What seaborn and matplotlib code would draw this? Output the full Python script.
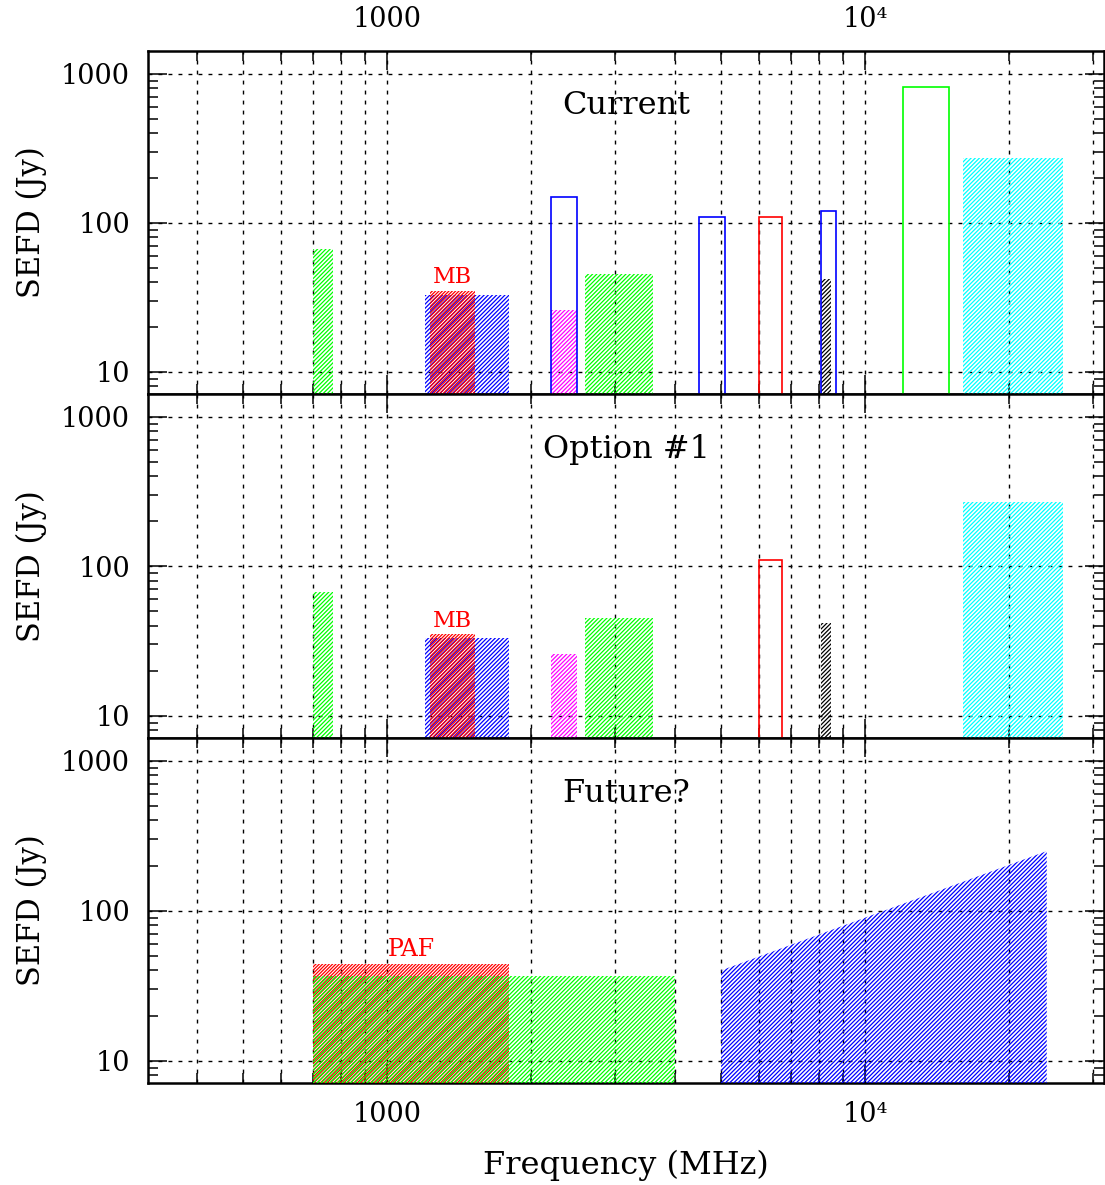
import matplotlib.pyplot as plt
import numpy as np
import seaborn as sns
from matplotlib.ticker import LogLocator, NullFormatter

# receiver bands: lower / upper edge (MHz) and SEFD (Jy)
current_lo = [700, 1200, 1230, 2200, 2200, 2600, 4500, 6000, 8100, 8100, 12000, 16000]
current_hi = [770, 1800, 1530, 2500, 2500, 3600, 5100, 6700, 8700, 8500, 15000, 26000]
current_sefd = [67, 33, 35, 150, 26, 45, 110, 110, 120, 42, 810, 270]

option_lo = [700, 1200, 1230, 2200, 2600, 6000, 8100, 16000]
option_hi = [770, 1800, 1530, 2500, 3600, 6700, 8500, 26000]
option_sefd = [67, 33, 35, 26, 45, 110, 42, 270]

future_lo = [700, 700]
future_hi = [1800, 4000]
future_sefd = [44, 37]

# wideband feed, SEFD rising with frequency
wide_freq = [5000, 24000]
wide_sefd = [40, 250]

panel_titles = ['Current', 'Option #1', 'Future?']
xtick_vals = [1000, 10000]
xtick_labels = ['1000', '10\u2074']
ytick_vals = [10, 100, 1000]
ytick_labels = ['10', '100', '1000']

# styles (colour, hatched?) for each band above
G, B, R, M, C, K = '#00ff00', '#0000ff', '#ff0000', '#ff00ff', '#00ffff', '#000000'
current_style = [(G, True), (B, True), (R, True), (B, False), (M, True), (G, True),
                 (B, False), (R, False), (B, False), (K, True), (G, False), (C, True)]
option_style = [(G, True), (B, True), (R, True), (M, True), (G, True),
                (R, False), (K, True), (C, True)]
future_style = [(R, True), (G, True)]

sns.set_style("ticks")
plt.rcParams['font.family'] = ['DejaVu Serif', 'DejaVu Sans']
plt.rcParams['hatch.linewidth'] = 0.9
for k in ['text.color', 'axes.labelcolor', 'xtick.color', 'ytick.color']:
    plt.rcParams[k] = 'black'

FLOOR = 1.0
XLIM = (10 ** 2.5, 10 ** 4.5)
YLIM = (7.1, 1420)


def draw_bands(ax, lo, hi, sefd, style):
    lo = np.array(lo, float)
    hi = np.array(hi, float)
    for l, h, s, (col, hatched) in zip(lo, hi, sefd, style):
        if hatched:
            # red receivers get a slightly denser hatch so overlaps stay visible
            hp = '/' * 10 if col == R else '/' * 8
            ax.bar(l, s - FLOOR, width=h - l, bottom=FLOOR, align='edge',
                   facecolor='none', edgecolor=col, linewidth=0, hatch=hp, zorder=3)
        else:
            ax.bar(l, s - FLOOR, width=h - l, bottom=FLOOR, align='edge',
                   facecolor='none', edgecolor=col, linewidth=1.2, zorder=4)


def label_band(ax, lo, hi, sefd, text, size):
    ax.annotate(text, xy=(np.sqrt(lo * hi), sefd), xytext=(0, 2),
                textcoords='offset points', ha='center', va='bottom',
                color=R, fontsize=size)


fig = plt.figure(figsize=(11.05, 11.85), dpi=100)
left, width = 148 / 1105, 956 / 1105
edges = [51, 394, 738, 1083]
axes = []
for i in range(3):
    top = 1 - edges[i] / 1185
    bot = 1 - edges[i + 1] / 1185
    ax = fig.add_axes([left, bot, width, top - bot], sharex=axes[0] if axes else None)
    axes.append(ax)

draw_bands(axes[0], current_lo, current_hi, current_sefd, current_style)
label_band(axes[0], 1230, 1530, 35, 'MB', 16)
draw_bands(axes[1], option_lo, option_hi, option_sefd, option_style)
label_band(axes[1], 1230, 1530, 35, 'MB', 16)
draw_bands(axes[2], future_lo, future_hi, future_sefd, future_style)
axes[2].fill_between(wide_freq, FLOOR, wide_sefd, facecolor='none', edgecolor=B,
                     linewidth=0, hatch='/' * 8, zorder=3)
label_band(axes[2], 700, 1800, 44, 'PAF', 17)

for i, ax in enumerate(axes):
    ax.set_xscale('log')
    ax.set_yscale('log')
    ax.set_xlim(*XLIM)
    ax.set_ylim(*YLIM)
    ax.set_axisbelow(True)
    ax.xaxis.set_minor_locator(LogLocator(subs=np.arange(2, 10)))
    ax.yaxis.set_minor_locator(LogLocator(subs=np.arange(2, 10)))
    ax.set_xticks(xtick_vals, labels=xtick_labels)
    ax.set_yticks(ytick_vals, labels=ytick_labels)
    ax.xaxis.set_minor_formatter(NullFormatter())
    ax.yaxis.set_minor_formatter(NullFormatter())
    ax.tick_params(which='both', direction='in', top=True, right=True,
                   labelsize=19.5, width=1.1, pad=13, color='black')
    ax.tick_params(which='major', length=14)
    ax.tick_params(which='minor', length=7.5)
    ax.tick_params(axis='x', labelbottom=(i == 2), labeltop=(i == 0))
    ax.grid(True, axis='x', which='both', color='black', linestyle=(0, (2.8, 4.4)), linewidth=1.0)
    ax.grid(True, axis='y', which='major', color='black', linestyle=(0, (2.8, 4.4)), linewidth=1.0)
    for sp in ax.spines.values():
        sp.set_linewidth(1.8)
        sp.set_color('black')
    ax.set_ylabel('SEFD (Jy)', fontsize=22, labelpad=10)
    ax.text(0.5, 0.84, panel_titles[i], transform=ax.transAxes, ha='center',
            va='center', fontsize=23)
    ax.set_facecolor('white')

axes[2].set_xlabel('Frequency (MHz)', fontsize=23, labelpad=16)

fig.savefig('out.png', dpi=100)
